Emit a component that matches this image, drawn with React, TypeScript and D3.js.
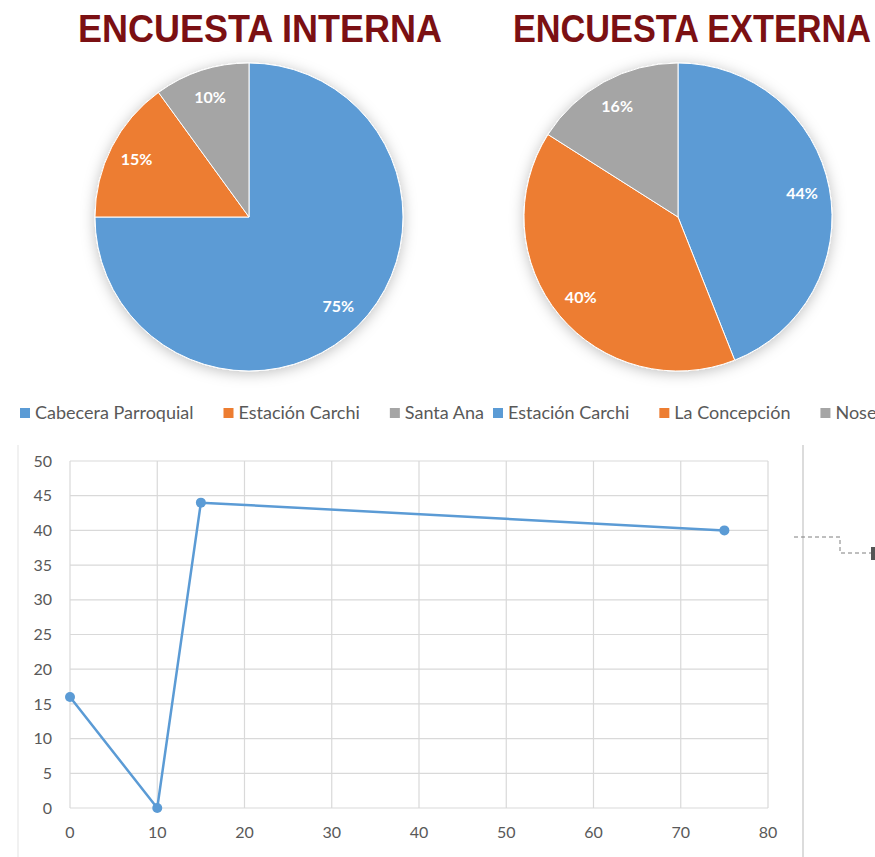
import { useEffect, useRef } from 'react';
import * as d3 from 'd3';

// pie data
const internalLabels = ['Cabecera Parroquial', 'Estación Carchi', 'Santa Ana'];
const internalValues = [75, 15, 10];
const externalLabels = ['Estación Carchi', 'La Concepción', 'Nose'];
const externalValues = [44, 40, 16];

// scatter-with-lines data
const lineX = [0, 10, 15, 75];
const lineY = [16, 0, 44, 40];
const xTicks = [0, 10, 20, 30, 40, 50, 60, 70, 80];
const yTicks = [0, 5, 10, 15, 20, 25, 30, 35, 40, 45, 50];

const sliceColors = ['#5B9BD5', '#ED7D31', '#A5A5A5'];
const FONT = 'Lato, "Open Sans", sans-serif';

export default function App() {
  const svgRef = useRef<SVGSVGElement>(null);

  useEffect(() => {
    if (!svgRef.current) return;
    const svg = d3.select(svgRef.current);
    svg.selectAll('*').remove();

    const width = 875;
    const height = 857;
    svg.attr('width', width).attr('height', height).attr('viewBox', [0, 0, width, height]);

    svg.append('rect').attr('width', width).attr('height', height).attr('fill', '#fff');

    // soft shadow used under the pies
    const defs = svg.append('defs');
    const f = defs.append('filter').attr('id', 'pieShadow')
      .attr('x', '-20%').attr('y', '-20%').attr('width', '140%').attr('height', '140%');
    f.append('feDropShadow').attr('dx', 0).attr('dy', 2).attr('stdDeviation', 7)
      .attr('flood-color', '#000').attr('flood-opacity', 0.25);

    // titles
    const titles = [
      { text: 'ENCUESTA INTERNA', x: 78, len: 364 },
      { text: 'ENCUESTA EXTERNA', x: 513, len: 358 },
    ];
    svg.selectAll('text.title')
      .data(titles)
      .join('text')
      .attr('class', 'title')
      .attr('x', d => d.x)
      .attr('y', 42)
      .attr('textLength', d => d.len)
      .attr('lengthAdjust', 'spacingAndGlyphs')
      .style('font-family', '"Liberation Sans Narrow", "Arial Narrow", "Liberation Sans", sans-serif')
      .style('font-weight', 'bold')
      .style('font-size', '39px')
      .attr('fill', '#7B1013')
      .text(d => d.text);

    // pies
    const radius = 154;
    const pies = [
      { cx: 249, cy: 217, values: internalValues },
      { cx: 678, cy: 217, values: externalValues },
    ];
    const pie = d3.pie<number>().sort(null).value(d => d);
    const arc = d3.arc<d3.PieArcDatum<number>>().innerRadius(0).outerRadius(radius);
    const labelArc = d3.arc<d3.PieArcDatum<number>>().innerRadius(radius * 0.82).outerRadius(radius * 0.82);

    pies.forEach(p => {
      const total = d3.sum(p.values);
      const g = svg.append('g').attr('transform', `translate(${p.cx},${p.cy})`);
      const arcs = pie(p.values);
      g.append('g').attr('filter', 'url(#pieShadow)')
        .selectAll('path')
        .data(arcs)
        .join('path')
        .attr('d', arc)
        .attr('fill', (d, i) => sliceColors[i])
        .attr('stroke', '#fff')
        .attr('stroke-width', 1);
      g.selectAll('text')
        .data(arcs)
        .join('text')
        .attr('transform', d => `translate(${labelArc.centroid(d)})`)
        .attr('text-anchor', 'middle')
        .attr('dy', '0.35em')
        .style('font-family', FONT)
        .style('font-weight', 'bold')
        .style('font-size', '16px')
        .attr('fill', '#fff')
        .text(d => `${Math.round((d.data / total) * 100)}%`);
    });

    // legends: two legends side by side
    const legendY = 413;
    const drawLegend = (labels: string[], startX: number) => {
      let x = startX;
      labels.forEach((label, i) => {
        svg.append('rect')
          .attr('x', x).attr('y', legendY - 5)
          .attr('width', 10).attr('height', 10)
          .attr('fill', sliceColors[i]);
        const t = svg.append('text')
          .attr('x', x + 15).attr('y', legendY)
          .attr('dy', '0.35em')
          .style('font-family', FONT)
          .style('font-size', '18px')
          .attr('fill', '#595959')
          .text(label);
        const w = (t.node() as SVGTextElement).getComputedTextLength();
        x += 15 + w + 30;
      });
    };
    drawLegend(internalLabels, 20);
    drawLegend(externalLabels, 493);

    // line chart frame lines
    svg.append('line').attr('x1', 18).attr('x2', 18).attr('y1', 445).attr('y2', height)
      .attr('stroke', '#e3e3e3').attr('stroke-width', 1);
    svg.append('line').attr('x1', 803).attr('x2', 803).attr('y1', 445).attr('y2', height)
      .attr('stroke', '#dcdcdc').attr('stroke-width', 2);

    const x = d3.scaleLinear().domain([0, 80]).range([70, 768]);
    const y = d3.scaleLinear().domain([0, 50]).range([808, 461]);

    // grid
    svg.append('g').selectAll('line')
      .data(yTicks)
      .join('line')
      .attr('x1', x(0)).attr('x2', x(80))
      .attr('y1', d => y(d)).attr('y2', d => y(d))
      .attr('stroke', '#d9d9d9').attr('stroke-width', 1.2);
    svg.append('g').selectAll('line')
      .data(xTicks)
      .join('line')
      .attr('x1', d => x(d)).attr('x2', d => x(d))
      .attr('y1', y(0)).attr('y2', y(50))
      .attr('stroke', '#d9d9d9').attr('stroke-width', 1.2);

    // tick labels
    svg.append('g').selectAll('text')
      .data(yTicks)
      .join('text')
      .attr('x', 52)
      .attr('y', d => y(d))
      .attr('dy', '0.35em')
      .attr('text-anchor', 'end')
      .style('font-family', FONT)
      .style('font-size', '16px')
      .attr('fill', '#595959')
      .text(d => d);
    svg.append('g').selectAll('text')
      .data(xTicks)
      .join('text')
      .attr('x', d => x(d))
      .attr('y', 832)
      .attr('dy', '0.35em')
      .attr('text-anchor', 'middle')
      .style('font-family', FONT)
      .style('font-size', '16px')
      .attr('fill', '#595959')
      .text(d => d);

    // series
    const pts = lineX.map((v, i) => [v, lineY[i]] as [number, number]);
    const line = d3.line<[number, number]>().x(d => x(d[0])).y(d => y(d[1]));
    svg.append('path')
      .datum(pts)
      .attr('d', line)
      .attr('fill', 'none')
      .attr('stroke', '#5B9BD5')
      .attr('stroke-width', 2.5)
      .attr('stroke-linejoin', 'round');
    svg.append('g').selectAll('circle')
      .data(pts)
      .join('circle')
      .attr('cx', d => x(d[0]))
      .attr('cy', d => y(d[1]))
      .attr('r', 5)
      .attr('fill', '#5B9BD5');

    // dashed connector at the right edge
    svg.append('path')
      .attr('d', 'M794,537 H840 V553 H872')
      .attr('fill', 'none')
      .attr('stroke', '#7f7f7f')
      .attr('stroke-width', 1)
      .attr('stroke-dasharray', '4,3');
    svg.append('rect').attr('x', 871).attr('y', 547).attr('width', 4).attr('height', 13)
      .attr('fill', '#555');
  }, []);

  return (
    <div style={{ position: 'absolute', left: 0, top: 0 }}>
      <svg ref={svgRef}></svg>
    </div>
  );
}
